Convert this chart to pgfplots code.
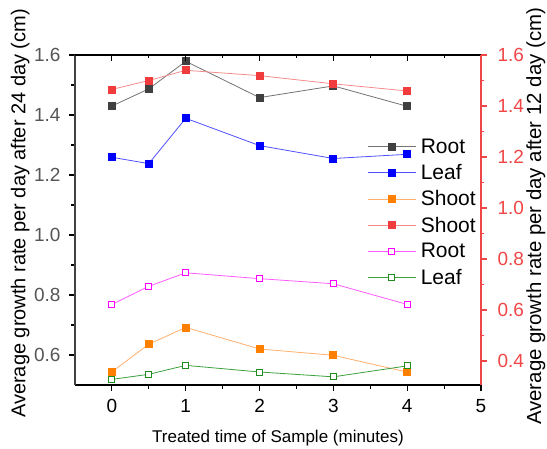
\documentclass[border=0pt]{standalone}
\usepackage{fontspec}
\setmainfont{Liberation Sans}
\usepackage{pgfplots}
\pgfplotsset{compat=1.18}

\definecolor{cgray}{RGB}{64,64,64}
\definecolor{cgrayl}{RGB}{115,115,115}
\definecolor{cblue}{RGB}{0,0,255}
\definecolor{cbluel}{RGB}{80,80,255}
\definecolor{corange}{RGB}{255,128,0}
\definecolor{corangel}{RGB}{255,175,110}
\definecolor{cred}{RGB}{240,60,60}
\definecolor{credl}{RGB}{245,140,140}
\definecolor{cmag}{RGB}{255,0,255}
\definecolor{cmagl}{RGB}{255,90,255}
\definecolor{cgreen}{RGB}{30,140,30}
\definecolor{cgreenl}{RGB}{60,160,60}
\definecolor{caxred}{RGB}{240,70,70}
\definecolor{ctick}{RGB}{85,85,85}

\pgfplotsset{
  base/.style={
    scale only axis, width=406pt, height=330pt,
    xmin=-0.5, xmax=5,
    tick align=outside, major tick length=6pt, minor tick length=3.5pt,
    /pgf/number format/assume math mode=true,
    tick label style={font=\fontsize{19}{22}\selectfont},
    every tick/.style={line width=1.1pt},
    axis line style={line width=1.2pt, -},
  },
  sroot/.style={cgrayl, line width=0.8pt, mark=square*, mark size=3.5pt, mark options={fill=cgray, draw=cgray, solid}},
  sleaf/.style={cbluel, line width=0.8pt, mark=square*, mark size=3.5pt, mark options={fill=cblue, draw=cblue, solid}},
  sshootA/.style={corangel, line width=0.8pt, mark=square*, mark size=3.5pt, mark options={fill=corange, draw=corange, solid}},
  sshootB/.style={credl, line width=0.8pt, mark=square*, mark size=3.5pt, mark options={fill=cred, draw=cred, solid}},
  srootB/.style={cmagl, line width=0.8pt, mark=square*, mark size=3pt, mark options={fill=white, draw=cmag, line width=0.9pt, solid}},
  sleafB/.style={cgreenl, line width=0.8pt, mark=square*, mark size=3pt, mark options={fill=white, draw=cgreen, line width=0.9pt, solid}},
}

\begin{document}
\begin{tikzpicture}
% left axis: 24 day
\begin{axis}[base,
    axis x line*=bottom, axis y line*=left,
    x axis line style={black}, y axis line style={cgray},
    ymin=0.5, ymax=1.6,
    xtick={0,1,2,3,4,5}, minor x tick num=1,
    ytick={0.6,0.8,1.0,1.2,1.4,1.6}, minor y tick num=1,
    xticklabel style={yshift=-5pt},
    yticklabel style={xshift=-5pt, text=ctick, /pgf/number format/.cd, fixed, fixed zerofill, precision=1},
    xlabel={Treated time of Sample (minutes)},
    xlabel style={font=\fontsize{17}{20}\selectfont, at={(axis description cs:0.5,-0.16)}, anchor=center},
    ylabel={Average growth rate per day after 24 day (cm)},
    ylabel style={font=\fontsize{20}{23}\selectfont, at={(axis description cs:-0.135,0.52)}, anchor=center},
]
\addplot[sroot] coordinates {(0,1.430)(0.5,1.487)(1,1.579)(2,1.458)(3,1.497)(4,1.429)};
\addplot[sleaf] coordinates {(0,1.259)(0.5,1.238)(1,1.389)(2,1.298)(3,1.255)(4,1.269)};
\addplot[sshootA] coordinates {(0,0.544)(0.5,0.636)(1,0.692)(2,0.620)(3,0.599)(4,0.543)};
\end{axis}
% top ticks
\begin{axis}[base,
    hide y axis, axis x line*=top, tick align=inside,
    ymin=0, ymax=1,
    xtick={0,1,2,3,4,5}, minor x tick num=1, xticklabels={},
    x axis line style={black},
]
\end{axis}
% right axis: 12 day
\begin{axis}[base,
    hide x axis, axis y line*=right,
    y axis line style={caxred}, ytick style={caxred},
    ymin=0.306, ymax=1.6,
    ytick={0.4,0.6,0.8,1.0,1.2,1.4,1.6}, minor y tick num=1,
    yticklabel style={xshift=7pt, text=caxred, /pgf/number format/.cd, fixed, fixed zerofill, precision=1},
    ylabel={Average growth rate per day after 12 day (cm)},
    ylabel style={font=\fontsize{20.4}{23}\selectfont, at={(axis description cs:1.135,0.511)}, anchor=center},
    legend image code/.code={\draw[mark repeat=2,mark phase=2,#1] plot coordinates {(0pt,0pt) (24pt,0pt) (48pt,0pt)};},
    legend style={at={(axis description cs:0.72,0.751)}, anchor=north west, draw=none, fill=none,
        inner sep=0pt, font=\fontsize{21}{24}\selectfont, row sep=6.6pt, column sep=3pt,
        cells={anchor=west}, nodes={inner sep=1.5pt}},
]
\addlegendimage{sroot}\addlegendentry{Root}
\addlegendimage{sleaf}\addlegendentry{Leaf}
\addlegendimage{sshootA}\addlegendentry{Shoot}
\addplot[sshootB] coordinates {(0,1.465)(0.5,1.500)(1,1.540)(2,1.519)(3,1.487)(4,1.459)};
\addlegendentry{Shoot}
\addplot[srootB] coordinates {(0,0.622)(0.5,0.693)(1,0.746)(2,0.723)(3,0.703)(4,0.622)};
\addlegendentry{Root}
\addplot[sleafB] coordinates {(0,0.328)(0.5,0.348)(1,0.383)(2,0.357)(3,0.338)(4,0.381)};
\addlegendentry{Leaf}
\end{axis}
\pgfresetboundingbox
\path[use as bounding box] (-75pt,-63pt) rectangle (472pt,385pt);
\end{tikzpicture}
\end{document}
